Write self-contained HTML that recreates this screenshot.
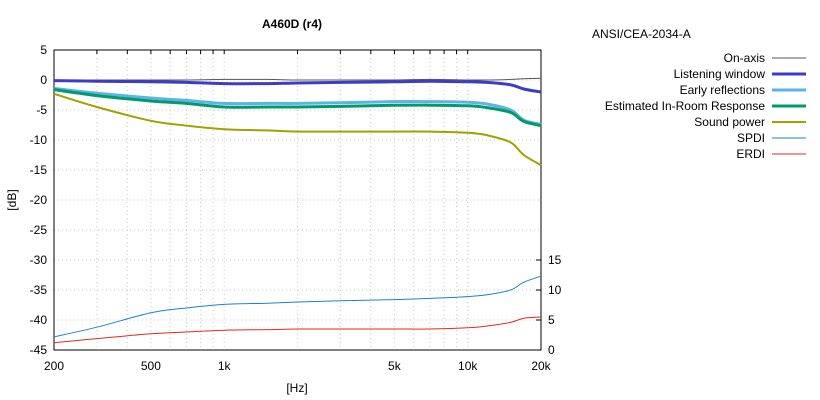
<!DOCTYPE html>
<html><head><meta charset="utf-8"><style>
body{margin:0;background:#fff}
svg{display:block;font-family:"Liberation Sans",Arial,sans-serif;font-size:12px}
</style></head><body>
<svg id="c" width="820" height="400"></svg>
<script>
const freqs=[200,300,500,700,1000,1500,2000,3000,5000,7000,10000,12000,15000,17000,20000];
const onAxis=[-0.1,0,0,0,0.1,0.1,0,0,0,0.1,0,0,0.1,0.2,0.3];
const listening=[-0.1,-0.2,-0.3,-0.4,-0.6,-0.6,-0.5,-0.4,-0.3,-0.2,-0.3,-0.4,-0.8,-1.5,-2.0];
const early=[-1.4,-2.2,-3.0,-3.4,-3.9,-3.9,-3.9,-3.8,-3.6,-3.6,-3.7,-4.0,-5.0,-6.7,-7.4];
const eir=[-1.6,-2.6,-3.5,-3.9,-4.5,-4.5,-4.5,-4.4,-4.2,-4.2,-4.3,-4.6,-5.4,-6.9,-7.6];
const soundPower=[-2.3,-4.5,-6.8,-7.6,-8.2,-8.4,-8.6,-8.6,-8.6,-8.6,-8.8,-9.2,-10.4,-12.5,-14.2];
const spdi=[2.2,3.8,6.2,7.0,7.6,7.8,8.0,8.2,8.4,8.6,8.9,9.2,10.0,11.3,12.3];
const erdi=[1.2,1.9,2.7,3.0,3.3,3.4,3.5,3.5,3.5,3.5,3.7,4.0,4.6,5.3,5.5];
const yTicks=[5,0,-5,-10,-15,-20,-25,-30,-35,-40,-45];
const y2Ticks=[0,5,10,15];
const xLabels=[[200,"200"],[500,"500"],[1000,"1k"],[5000,"5k"],[10000,"10k"],[20000,"20k"]];

const L=54,R=541,T=50,B=350;
const x=f=>L+(R-L)*Math.log10(f/200)/2;
const y=d=>T+(5-d)*(B-T)/50;
const y2=d=>B-d*6;
const svg=document.getElementById('c');
const NS='http://www.w3.org/2000/svg';
function mk(t,a,p){const e=document.createElementNS(NS,t);for(const k in a)e.setAttribute(k,a[k]);(p||svg).appendChild(e);return e;}
function txt(s,a){const e=mk('text',a);e.textContent=s;return e;}

// grid
const gv=[];for(let d=100;d<=10000;d*=10)for(let m=1;m<10;m++){const f=d*m;if(f>=200&&f<=20000)gv.push(f);}
gv.forEach(f=>{
 const g=mk('line',{x1:x(f),x2:x(f),y1:T,y2:B,stroke:'#c8c8c8','stroke-dasharray':'1,3'});
 
 
 const t1=mk('line',{x1:x(f),x2:x(f),y1:T,y2:T+4,stroke:'#000'});
 
 
});
yTicks.forEach(v=>{
 const g=mk('line',{x1:L,x2:R,y1:y(v),y2:y(v),stroke:'#c8c8c8','stroke-dasharray':'1,3'});
 
 
 const t=txt(String(v),{x:L-7,y:y(v)+4,'text-anchor':'end'});
 
 
});
y2Ticks.forEach(v=>{
 const tk=mk('line',{x1:R-5,x2:R,y1:y2(v),y2:y2(v),stroke:'#000'});
 
 
 const t=txt(String(v),{x:R+7,y:y2(v)+4});
 
 
});
xLabels.forEach(([f,s])=>{
 const t=txt(s,{x:x(f),y:B+20,'text-anchor':'middle'});
 
 
});
const frame=mk('rect',{x:L,y:T,width:R-L,height:B-T,fill:'none',stroke:'#000'});



function path(vals,fy){
 const p=freqs.map((f,i)=>[x(f),fy(vals[i])]);
 let d='M'+p[0][0]+','+p[0][1];
 for(let i=0;i<p.length-1;i++){
  const p0=p[i-1]||p[i],p1=p[i],p2=p[i+1],p3=p[i+2]||p2;
  d+=' C'+(p1[0]+(p2[0]-p0[0])/6)+','+(p1[1]+(p2[1]-p0[1])/6)+' '+(p2[0]-(p3[0]-p1[0])/6)+','+(p2[1]-(p3[1]-p1[1])/6)+' '+p2[0]+','+p2[1];
 }
 return d;
}
const series=[
 ['On-axis',onAxis,y,'#555',1,'on-axis-line'],
 ['Listening window',listening,y,'#3c3cc8',3,'listening-window-line'],
 ['Early reflections',early,y,'#5ab4e6',3,'early-reflections-line'],
 ['Estimated In-Room Response',eir,y,'#009a6e',3,'eir-line'],
 ['Sound power',soundPower,y,'#a0a000',2,'sound-power-line'],
 ['SPDI',spdi,y2,'#1e82c8',1,'spdi-line'],
 ['ERDI',erdi,y2,'#e6281e',1,'erdi-line']
];
series.forEach(([n,v,fy,c,w,dn],i)=>{
 const p=mk('path',{d:path(v,fy),fill:'none',stroke:c,'stroke-width':w,'stroke-linejoin':'round'});
 
 
 const ly=58+i*16;
 const t=txt(n,{x:765,y:ly+4,'text-anchor':'end'});
 
 
 const s=mk('line',{x1:772,x2:806,y1:ly,y2:ly,stroke:c,'stroke-width':w});
 
 
});
const ti=txt('A460D (r4)',{x:292,y:28,'text-anchor':'middle','font-weight':'bold'});


const lh=txt('ANSI/CEA-2034-A',{x:592,y:38});


const xt=txt('[Hz]',{x:297,y:392,'text-anchor':'middle'});


const yt=txt('[dB]',{x:16,y:200,'text-anchor':'middle',transform:'rotate(-90 16 200)'});


</script>
</body></html>
